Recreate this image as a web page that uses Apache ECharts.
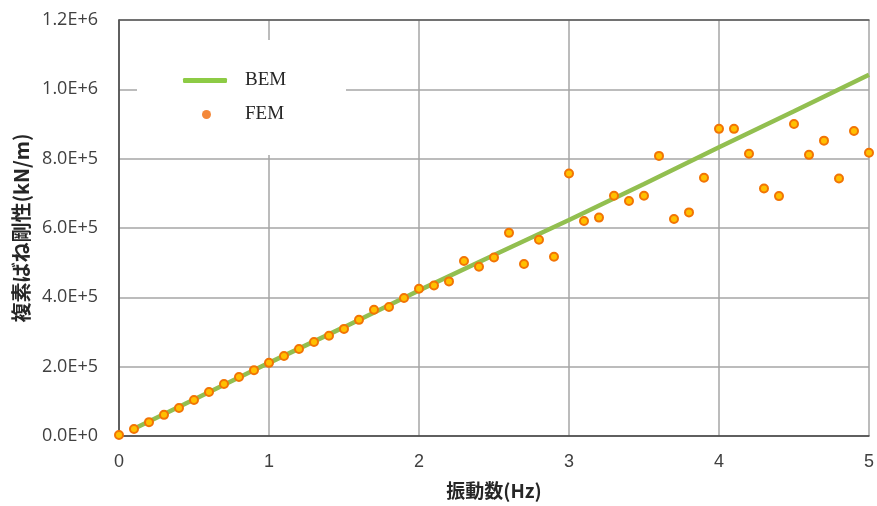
<!DOCTYPE html>
<html>
<head>
<meta charset="utf-8">
<script src="https://cdn.jsdelivr.net/npm/echarts@6/dist/echarts.min.js"></script>
<style>
  html, body { margin: 0; padding: 0; background: #fff; }
  #chart { width: 877px; height: 506px; }
</style>
</head>
<body>
<div id="chart"></div>
<script>
// Frequency (Hz) of each FEM sample
const femFreq = [
  0.0, 0.1, 0.2, 0.3, 0.4, 0.5, 0.6, 0.7, 0.8, 0.9,
  1.0, 1.1, 1.2, 1.3, 1.4, 1.5, 1.6, 1.7, 1.8, 1.9,
  2.0, 2.1, 2.2, 2.3, 2.4, 2.5, 2.6, 2.7, 2.8, 2.9,
  3.0, 3.1, 3.2, 3.3, 3.4, 3.5, 3.6, 3.7, 3.8, 3.9,
  4.0, 4.1, 4.2, 4.3, 4.4, 4.5, 4.6, 4.7, 4.8, 4.9, 5.0
];
// Complex spring stiffness from FEM (kN/m)
const femStiff = [
  3000, 20000, 40000, 61000, 81000, 104000, 127000, 150000, 170000, 190000,
  211000, 231000, 251000, 271000, 289000, 309000, 335000, 364000, 372000, 398000,
  425000, 434000, 446000, 505000, 488000, 515000, 586000, 496000, 566000, 517000,
  757000, 620000, 630000, 693000, 678000, 693000, 808000, 626000, 645000, 745000,
  886000, 886000, 814000, 714000, 692000, 900000, 811000, 852000, 743000, 880000, 817000
];
// Frequency (Hz) and stiffness (kN/m) of the BEM curve
const bemFreq = [0.1, 0.5, 1.0, 1.5, 2.0, 2.5, 3.0, 3.5, 4.0, 4.5, 5.0];
const bemStiff = [21000, 105000, 211000, 314000, 420000, 522000, 623000, 727000, 833000, 937000, 1042000];

// Axis ticks
const xTicks = [0, 1, 2, 3, 4, 5];
const yMax = 1200000;
const yStep = 200000;

const chart = echarts.init(document.getElementById('chart'), null, { renderer: 'canvas' });

const gridColor = '#a6a6a6';
const axisDark = '#404040';
const legendFont = { fontFamily: 'Liberation Serif', fontSize: 19, color: '#262626' };

chart.setOption({
  animation: false,
  backgroundColor: '#ffffff',
  grid: { left: 119, right: 6, top: 20, bottom: 70, containLabel: false },
  graphic: [{
    type: 'rect',
    z: 1,
    shape: { x: 137, y: 40, width: 209, height: 115 },
    style: { fill: '#ffffff' }
  }],
  legend: [{
    left: 183,
    top: 71,
    padding: 0,
    itemWidth: 44,
    itemHeight: 5,
    itemGap: 0,
    textStyle: Object.assign({ padding: [0, 0, 0, 13] }, legendFont),
    data: [{ name: 'BEM', icon: 'roundRect', itemStyle: { color: '#8DCB45' } }]
  }, {
    left: 202,
    top: 105,
    padding: 0,
    itemWidth: 9,
    itemHeight: 9,
    itemGap: 0,
    textStyle: Object.assign({ padding: [0, 0, 0, 29] }, legendFont),
    data: [{ name: 'FEM', icon: 'circle', itemStyle: { color: '#F4883A', borderWidth: 0 } }]
  }],
  xAxis: [{
    type: 'value',
    min: xTicks[0],
    max: xTicks[xTicks.length - 1],
    interval: 1,
    name: '振動数(Hz)',
    nameLocation: 'middle',
    nameGap: 45,
    nameTextStyle: { fontFamily: 'Noto Sans CJK JP', fontWeight: 'bold', fontSize: 19, color: '#262626' },
    axisLine: { show: true, onZero: false, lineStyle: { color: axisDark, width: 1.5 } },
    axisTick: { show: false },
    axisLabel: { margin: 17, fontFamily: 'Liberation Sans Narrow, Liberation Sans', fontSize: 18, color: '#404040' },
    splitLine: { show: true, lineStyle: { color: gridColor, width: 1.5 } }
  }, {
    type: 'value',
    position: 'top',
    min: xTicks[0],
    max: xTicks[xTicks.length - 1],
    axisLine: { show: true, onZero: false, lineStyle: { color: '#595959', width: 1.5 } },
    axisTick: { show: false },
    axisLabel: { show: false },
    splitLine: { show: false }
  }],
  yAxis: {
    type: 'value',
    min: 0,
    max: yMax,
    interval: yStep,
    name: '複素ばね剛性(kN/m)',
    nameLocation: 'middle',
    nameGap: 88,
    nameTextStyle: { fontFamily: 'Noto Sans CJK JP', fontWeight: 'bold', fontSize: 20, color: '#262626' },
    axisLine: { show: true, lineStyle: { color: axisDark, width: 1.5 } },
    axisTick: { show: false },
    axisLabel: {
      margin: 21,
      fontFamily: 'Open Sans',
      fontSize: 18,
      color: '#404040',
      formatter: v => v.toExponential(1).toUpperCase()
    },
    splitLine: { show: true, lineStyle: { color: gridColor, width: 1.5 } }
  },
  series: [{
    name: 'BEM',
    type: 'line',
    z: 3,
    showSymbol: false,
    symbol: 'none',
    lineStyle: { color: '#92BF50', width: 4.5 },
    itemStyle: { color: '#8DCB45' },
    data: bemFreq.map((f, i) => [f, bemStiff[i]])
  }, {
    name: 'FEM',
    type: 'scatter',
    z: 4,
    symbol: 'circle',
    symbolSize: 8,
    itemStyle: { color: '#FFC000', borderColor: '#F27405', borderWidth: 2, opacity: 1 },
    data: femFreq.map((f, i) => [f, femStiff[i]])
  }]
});
</script>
</body>
</html>
